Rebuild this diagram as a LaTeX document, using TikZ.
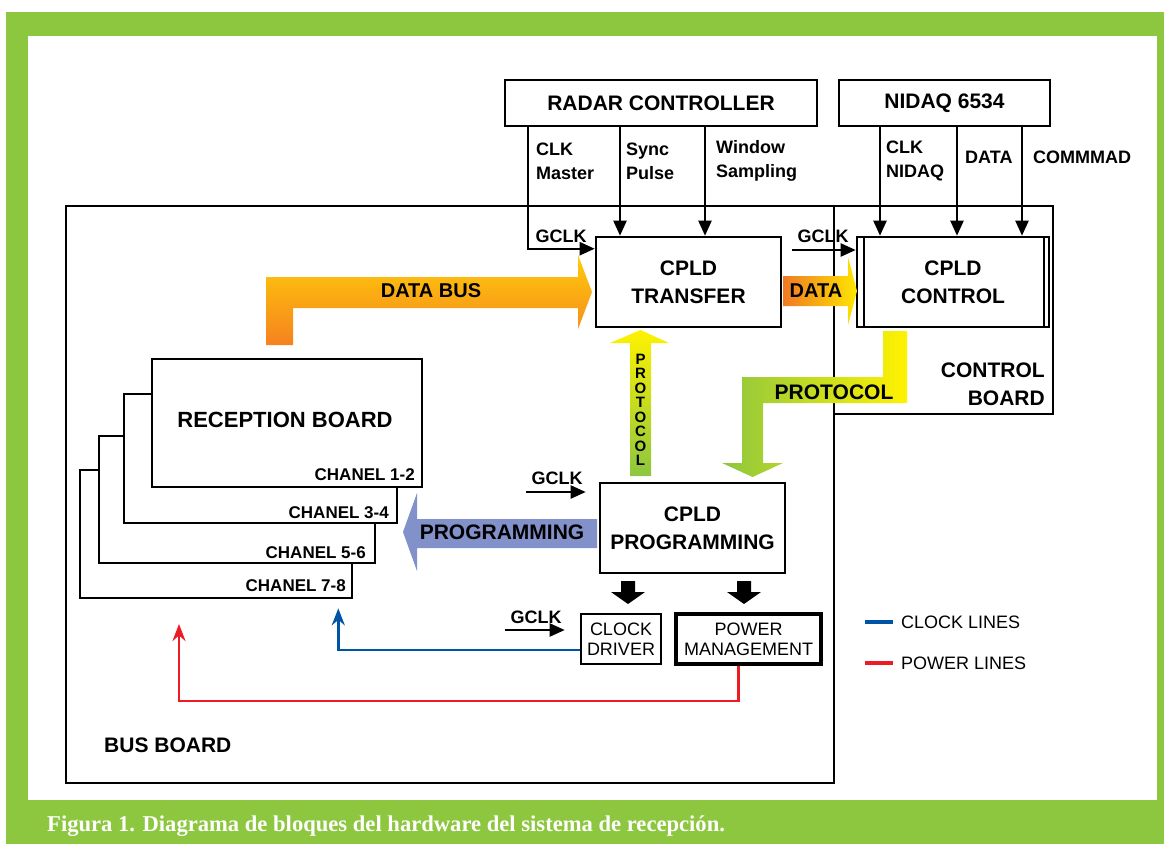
\documentclass[tikz,border=0pt]{standalone}
\usepackage{fontspec}
\setmainfont{Liberation Sans}
\newfontfamily\capfont{Liberation Serif}
\usetikzlibrary{arrows.meta,calc}
\definecolor{framegreen}{HTML}{8DC63F}
\definecolor{dbyellow}{HTML}{FFCC0A}
\definecolor{dborange}{HTML}{F5821F}
\definecolor{dorange}{HTML}{F07A24}
\definecolor{dyellow}{HTML}{FFE600}
\definecolor{pyellow}{HTML}{FFF200}
\definecolor{pgreen}{HTML}{8DC63F}
\definecolor{progblue}{HTML}{8291C9}
\definecolor{clkblue}{HTML}{0054A6}
\definecolor{pwrred}{HTML}{ED1C24}
\newcommand\fbig{\fontsize{21}{28}\selectfont\bfseries}
\newcommand\flab{\fontsize{18}{24}\selectfont\bfseries}
\newcommand\freg{\fontsize{18}{20}\selectfont}
\begin{document}
\begin{tikzpicture}[x=1pt,y=-1pt,
  box/.style={draw, line width=2.6pt, fill=white, inner sep=0pt, align=center, font=\fbig},
  lbl/.style={inner sep=0pt, font=\flab, align=left},
  big/.style={inner sep=0pt, font=\fbig, align=center},
  conn/.style={line width=2.2pt, -{Triangle[length=15pt,width=13pt]}},
  clkl/.style={line width=2.6pt, clkblue, -{Stealth[length=17pt,width=13pt]}},
  pwrl/.style={line width=2.6pt, pwrred, -{Stealth[length=17pt,width=13pt]}},
  rb/.style={draw, line width=2.6pt, fill=white}
]
\useasboundingbox (0,0) rectangle (1164,844);
\fill[white] (0,0) rectangle (1164,844);
\fill[framegreen] (6,12) rectangle (1164,844);
\fill[white] (28,36) rectangle (1157,800);

% boards
\node[draw, line width=2.6pt, inner sep=0pt, minimum width=768pt, minimum height=577pt] (busboard) at (450,494.5) {};
\node[draw, line width=2.6pt, inner sep=0pt, minimum width=219pt, minimum height=208pt] (ctrlboard) at (943.5,310) {};
\node[big, anchor=east, align=right] (ctrllbl) at (1045,384) {CONTROL\\BOARD};
\node[big, anchor=west] (buslbl) at (104,745) {BUS BOARD};

% top boxes
\node[box, minimum width=312pt, minimum height=46pt] (radar) at (661,103) {RADAR CONTROLLER};
\node[box, minimum width=211pt, minimum height=46pt] (nidaq) at (944.5,103) {NIDAQ 6534};

% CPLD boxes
\node[box, minimum width=185pt, minimum height=90pt] (transfer) at (688.5,282) {CPLD\\TRANSFER};
\node[box, minimum width=192pt, minimum height=90pt] (control) at (953,282) {CPLD\\CONTROL};
\draw[line width=1.8pt] ([xshift=8pt]control.north west) -- ([xshift=8pt]control.south west);
\draw[line width=1.8pt] ([xshift=-6pt]control.north east) -- ([xshift=-6pt]control.south east);
\node[box, minimum width=185pt, minimum height=90pt] (prog) at (692.5,528) {CPLD\\PROGRAMMING};
\node[box, font=\freg, minimum width=80pt, minimum height=50pt] (clockdrv) at (621,639) {CLOCK\\DRIVER};
\node[box, font=\freg, line width=3.4pt, minimum width=145pt, minimum height=50pt] (pwr) at (748.5,639) {POWER\\MANAGEMENT};

% signal labels
\node[lbl, anchor=west] (lclk) at (536,161) {CLK\\Master};
\node[lbl, anchor=west] (lsync) at (626,161) {Sync\\Pulse};
\node[lbl, anchor=west] (lwin) at (716,161) {Window\\Sampling};
\node[lbl, anchor=west] (lclkn) at (886,161) {CLK\\NIDAQ};
\node[lbl, anchor=west] (ldata) at (965,157) {DATA};
\node[lbl, anchor=west] (lcomm) at (1033,157) {COMMMAD};

% signal connectors
\coordinate (xm) at (528,0);
\coordinate (xs) at (620,0);
\coordinate (xw) at (705,0);
\coordinate (xn1) at (880,0);
\coordinate (xn2) at (957,0);
\coordinate (xn3) at (1022,0);
\draw[conn] (radar.south -| xm) |- ([yshift=-13pt]transfer.north west);
\draw[conn] (radar.south -| xs) -- (transfer.north -| xs);
\draw[conn] (radar.south -| xw) -- (transfer.north -| xw);
\draw[conn] (nidaq.south -| xn1) -- (control.north -| xn1);
\draw[conn] (nidaq.south -| xn2) -- (control.north -| xn2);
\draw[conn] (nidaq.south -| xn3) -- (control.north -| xn3);

% GCLK
\node[lbl] (gl1) at (561,236) {GCLK};
\node[lbl] (gl2) at (823,236) {GCLK};
\coordinate (g2) at (792,250);
\draw[conn] (g2) -- (g2 -| control.west);
\node[lbl] (gl3) at (557,478) {GCLK};
\coordinate (g3) at (526,492);
\draw[conn, shorten >=13pt] (g3) -- (g3 -| prog.west);
\node[lbl] (gl4) at (536,617) {GCLK};
\coordinate (g4) at (505,630);
\draw[conn, shorten >=15pt] (g4) -- (g4 -| clockdrv.west);

% reception boards
\node[rb, inner sep=0pt, minimum width=272pt, minimum height=128pt] (rb4) at (216,534) {};
\node[rb, inner sep=0pt, minimum width=276pt, minimum height=127pt] (rb3) at (237,499.5) {};
\node[rb, inner sep=0pt, minimum width=273pt, minimum height=129pt] (rb2) at (260.5,458.5) {};
\node[rb, inner sep=0pt, minimum width=270pt, minimum height=128pt] (rb1) at (287,423) {};
\node[big, font=\fontsize{22}{26}\selectfont\bfseries] (rblbl) at (285,420) {RECEPTION BOARD};
\node[lbl, font=\fontsize{17}{20}\selectfont\bfseries, anchor=east] (ch12) at (415,475) {CHANEL 1-2};
\node[lbl, font=\fontsize{17}{20}\selectfont\bfseries, anchor=east] (ch34) at (389,513) {CHANEL 3-4};
\node[lbl, font=\fontsize{17}{20}\selectfont\bfseries, anchor=east] (ch56) at (366,553) {CHANEL 5-6};
\node[lbl, font=\fontsize{17}{20}\selectfont\bfseries, anchor=east] (ch78) at (346,586) {CHANEL 7-8};

% block arrows
\shade[top color=dbyellow, bottom color=dborange]
  (266,345) -- (266,277) -- (578,277) -- (578,255) -- (592,292) -- (578,329) -- (578,308) -- (293,308) -- (293,345) -- cycle;
\node[big, font=\fontsize{20}{24}\selectfont\bfseries] (dbus) at (431,291) {DATA BUS};

\shade[left color=dorange, right color=dyellow]
  (783,276) -- (848,276) -- (848,257) -- (857,291) -- (848,325) -- (848,306) -- (783,306) -- cycle;
\node[big, font=\fontsize{20}{24}\selectfont\bfseries] (ddata) at (816,291) {DATA};

\shade[top color=pyellow, bottom color=pgreen]
  (630,476) -- (630,343) -- (610,343) -- (640.5,330) -- (669,343) -- (651,343) -- (651,476) -- cycle;
\node[inner sep=0pt, align=center, font=\fontsize{15}{14.5}\selectfont\bfseries] (vproto) at (640.5,410) {P\\R\\O\\T\\O\\C\\O\\L};

\shade[left color=pgreen, right color=pyellow]
  (883,331) -- (907,331) -- (907,403) -- (763,403) -- (763,463) -- (783,463) -- (752.5,477) -- (722,463) -- (742,463) -- (742,377) -- (883,377) -- cycle;
\node[big] (hproto) at (834,392) {PROTOCOL};

\fill[progblue] (597,519) -- (417,519) -- (417,493) -- (403,532) -- (417,571) -- (417,548) -- (597,548) -- cycle;
\node[big] (lprog) at (502,532) {PROGRAMMING};

\fill[black] (621,581) -- (635,581) -- (635,592) -- (645,592) -- (628,604) -- (611,592) -- (621,592) -- cycle;
\fill[black] (737,581) -- (751,581) -- (751,592) -- (761,592) -- (744,604) -- (727,592) -- (737,592) -- cycle;

% clock and power lines
\draw[clkl] ([yshift=-11pt]clockdrv.west) -| ($(rb4.south east)+(-15,9)$);
\coordinate (redc) at (179,701);
\coordinate (redtip) at (179,624);
\draw[pwrl] ([xshift=-10pt]pwr.south) |- (redc) -- (redtip);

% legend
\draw[line width=4pt, clkblue] (865,622) -- (893,622);
\node[inner sep=0pt, anchor=west, font=\freg] (legclk) at (901,622) {CLOCK LINES};
\draw[line width=4pt, pwrred] (865,663) -- (893,663);
\node[inner sep=0pt, anchor=west, font=\freg] (legpwr) at (901,663) {POWER LINES};

% caption
\node[inner sep=0pt, anchor=west, text=white, font={\capfont\fontsize{22.6}{26}\selectfont\bfseries}] (caption) at (47,826) {Figura 1. Diagrama de bloques del hardware del sistema de recepción.};
\end{tikzpicture}
\end{document}
